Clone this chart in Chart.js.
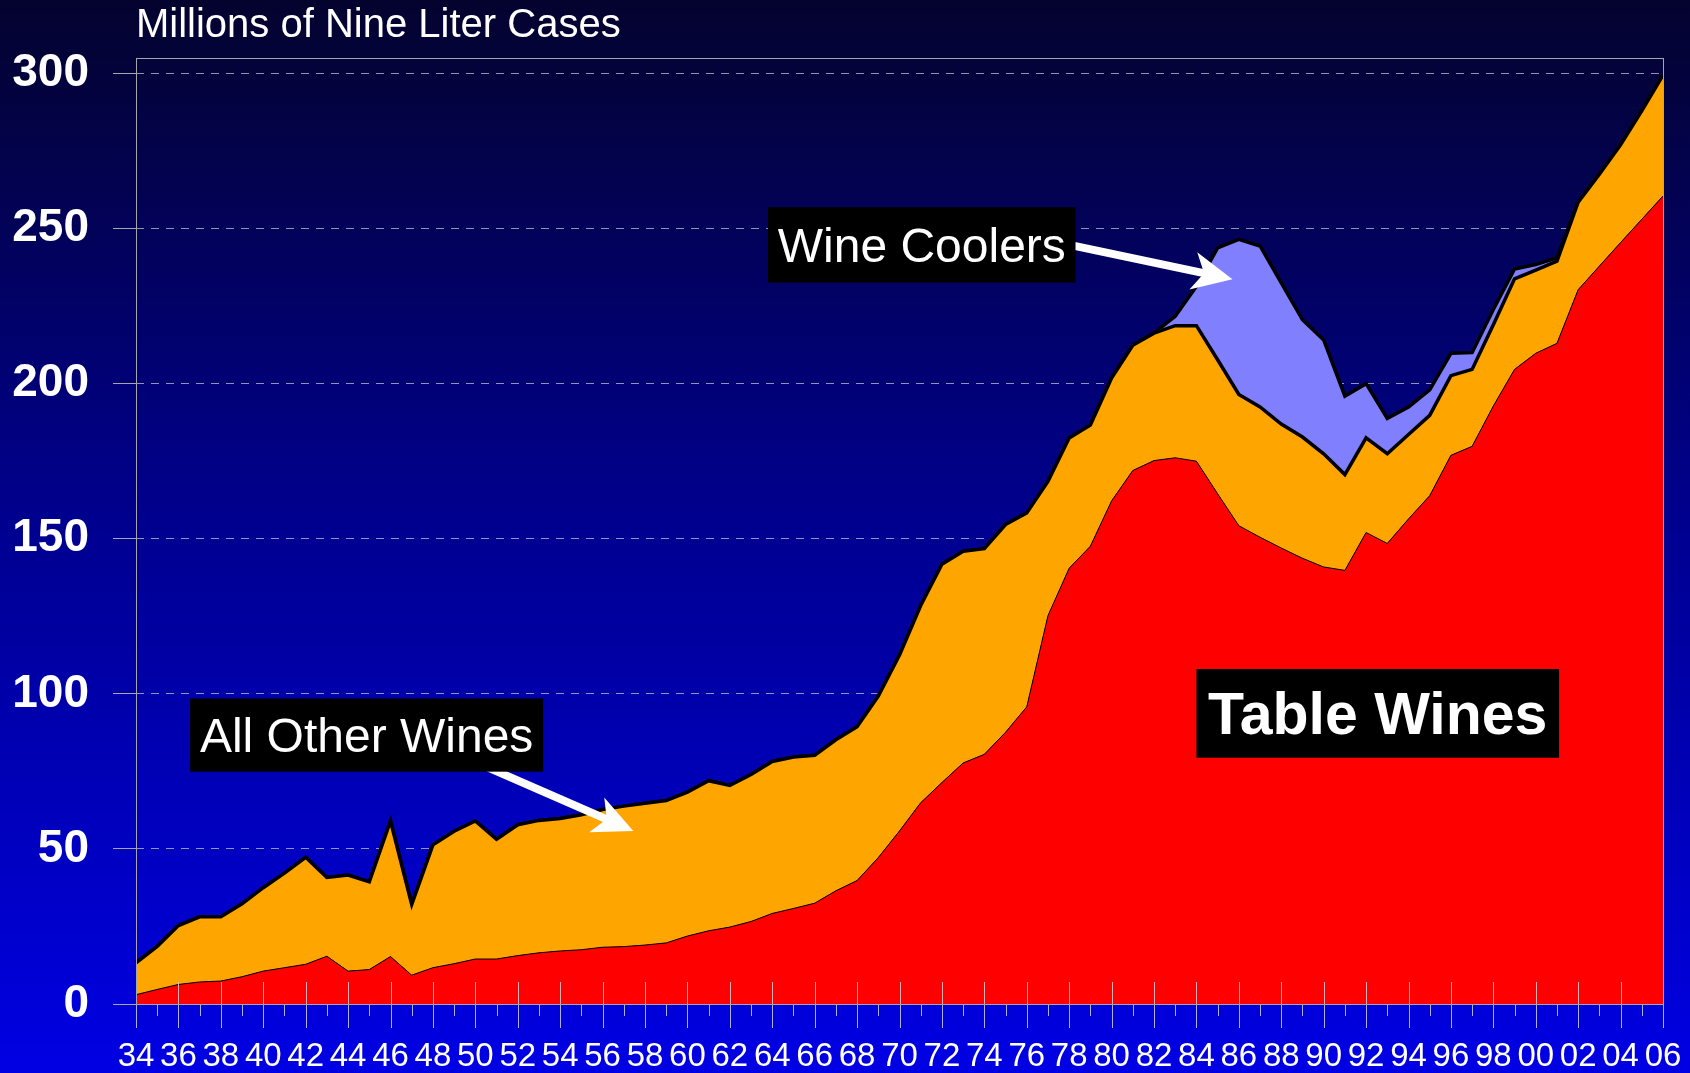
<!DOCTYPE html>
<html>
<head>
<meta charset="utf-8">
<title>Wine volume by type, 1934-2006</title>
<script src="https://cdn.jsdelivr.net/npm/chart.js@4.4.1/dist/chart.umd.min.js"></script>
<style>
  html, body { margin: 0; padding: 0; background: #02022a; overflow: hidden; }
  #wrap { width: 1690px; height: 1073px; }
</style>
</head>
<body>
<div id="wrap"><canvas id="chart" width="1690" height="1073"></canvas></div>
<script>
// Millions of nine liter cases
const years = [
  1934, 1935, 1936, 1937, 1938, 1939, 1940, 1941, 1942, 1943,
  1944, 1945, 1946, 1947, 1948, 1949, 1950, 1951, 1952, 1953,
  1954, 1955, 1956, 1957, 1958, 1959, 1960, 1961, 1962, 1963,
  1964, 1965, 1966, 1967, 1968, 1969, 1970, 1971, 1972, 1973,
  1974, 1975, 1976, 1977, 1978, 1979, 1980, 1981, 1982, 1983,
  1984, 1985, 1986, 1987, 1988, 1989, 1990, 1991, 1992, 1993,
  1994, 1995, 1996, 1997, 1998, 1999, 2000, 2001, 2002, 2003,
  2004, 2005, 2006
];

const tableWines = [
  3.0, 4.7, 6.3, 7.1, 7.4, 8.8, 10.6, 11.7, 12.8, 15.4,
  10.6, 11.1, 15.3, 9.3, 11.7, 13.0, 14.5, 14.5, 15.6, 16.5,
  17.1, 17.5, 18.3, 18.5, 19.0, 19.7, 21.9, 23.6, 24.8, 26.6,
  29.2, 30.8, 32.5, 36.5, 39.8, 47.2, 55.8, 64.9, 71.4, 77.7,
  80.5, 87.6, 95.8, 125.2, 140.5, 147.6, 162.2, 172.0, 175.2, 176.1,
  175.0, 164.5, 154.2, 150.5, 147.0, 143.7, 140.9, 139.8, 152.0, 148.5,
  156.4, 163.9, 176.9, 179.8, 192.8, 204.6, 209.8, 213.0, 230.3, 237.9,
  245.5, 253.0, 260.5
];

const otherWines = [
  10.3, 13.9, 19.0, 21.0, 20.7, 23.5, 26.9, 30.5, 34.5, 25.4,
  31.0, 28.3, 43.7, 22.8, 39.6, 42.7, 44.5, 38.6, 42.2, 42.7,
  42.7, 43.5, 44.4, 45.3, 45.7, 45.9, 46.4, 48.4, 45.7, 47.4,
  49.0, 48.8, 47.7, 48.7, 49.6, 52.1, 56.7, 63.6, 70.4, 68.3,
  66.3, 67.0, 62.5, 43.3, 42.0, 39.1, 39.6, 40.4, 41.1, 42.6,
  43.7, 43.2, 42.3, 42.0, 40.0, 39.1, 36.5, 30.9, 30.5, 28.9,
  27.2, 25.9, 25.7, 24.8, 26.2, 29.2, 26.8, 26.5, 28.2, 29.6,
  31.5, 35.0, 39.0
];

const wineCoolers = [
  0, 0, 0, 0, 0, 0, 0, 0, 0, 0,
  0, 0, 0, 0, 0, 0, 0, 0, 0, 0,
  0, 0, 0, 0, 0, 0, 0, 0, 0, 0,
  0, 0, 0, 0, 0, 0, 0, 0, 0, 0,
  0, 0, 0, 0, 0, 0, 0, 0, 0, 3.0,
  12.7, 36.1, 50.0, 51.9, 45.5, 37.8, 36.7, 25.3, 17.5, 11.4,
  8.9, 8.2, 7.2, 5.4, 4.9, 3.2, 1.8, 1.1, 0, 0,
  0, 0, 0
];

const yTicks = [0, 50, 100, 150, 200, 250, 300];

const FONT = '"Liberation Sans", Arial, Helvetica, sans-serif';

// callout boxes in data space: [year left, value top, year right, value bottom]
const callouts = [
  { text: 'Wine Coolers', box: [1963.8, 256.9, 1978.3, 232.6], size: 48, bold: false,
    arrow: [1976.4, 247.1, 1985.7, 233.7] },
  { text: 'All Other Wines', box: [1936.55, 98.5, 1953.2, 74.9], size: 48, bold: false,
    arrow: [1948.8, 81.6, 1957.45, 55.8] },
  { text: 'Table Wines', box: [1984.0, 108.0, 2001.1, 79.4], size: 59, bold: true }
];

const backdrop = {
  id: 'backdrop',
  beforeDraw(chart) {
    const { ctx, width, height } = chart;
    const g = ctx.createLinearGradient(0, 0, 0, height);
    g.addColorStop(0, '#04032e');
    g.addColorStop(0.47, '#00008c');
    g.addColorStop(1, '#0000e4');
    ctx.save();
    ctx.fillStyle = g;
    ctx.fillRect(0, 0, width, height);
    ctx.restore();
  }
};

function drawArrow(ctx, x1, y1, x2, y2) {
  const dx = x2 - x1, dy = y2 - y1;
  const len = Math.hypot(dx, dy);
  const ux = dx / len, uy = dy / len;
  const nx = -uy, ny = ux;
  const headLen = 40, halfW = 19, notch = 11;
  const bx = x2 - ux * (headLen - notch), by = y2 - uy * (headLen - notch);

  ctx.strokeStyle = '#fff';
  ctx.lineWidth = 8;
  ctx.lineCap = 'butt';
  ctx.beginPath();
  ctx.moveTo(x1, y1);
  ctx.lineTo(bx + ux * 2, by + uy * 2);
  ctx.stroke();

  ctx.fillStyle = '#fff';
  ctx.beginPath();
  ctx.moveTo(x2, y2);
  ctx.lineTo(x2 - ux * headLen + nx * halfW, y2 - uy * headLen + ny * halfW);
  ctx.lineTo(bx, by);
  ctx.lineTo(x2 - ux * headLen - nx * halfW, y2 - uy * headLen - ny * halfW);
  ctx.closePath();
  ctx.fill();
}

const overlay = {
  id: 'overlay',
  afterDatasetsDraw(chart) {
    const { ctx, chartArea: a, scales: { x, y } } = chart;
    const px = yr => x.getPixelForValue(yr - years[0]);
    const py = v => y.getPixelForValue(v);

    ctx.save();

    // year ticks: long crossing ticks on even years, short ones on odd years
    ctx.strokeStyle = 'rgba(205,205,215,0.85)';
    ctx.lineWidth = 1;
    years.forEach((yr, i) => {
      const xp = Math.round(x.getPixelForValue(i)) + 0.5;
      const major = yr % 2 === 0;
      ctx.beginPath();
      ctx.moveTo(xp, major ? a.bottom - 22 : a.bottom);
      ctx.lineTo(xp, a.bottom + (major ? 24 : 12));
      ctx.stroke();
    });

    // plot frame
    ctx.strokeStyle = '#a6a6aa';
    ctx.strokeRect(Math.round(a.left) + 0.5, Math.round(a.top) + 0.5,
      Math.round(a.right - a.left), Math.round(a.bottom - a.top));

    // arrows first, callout boxes over their tails
    callouts.forEach(c => {
      if (c.arrow) {
        const [x1, y1, x2, y2] = c.arrow;
        drawArrow(ctx, px(x1), py(y1), px(x2), py(y2));
      }
    });
    callouts.forEach(c => {
      const [l, t, r, b] = c.box;
      const left = px(l), top = py(t), right = px(r), bottom = py(b);
      ctx.fillStyle = '#000';
      ctx.fillRect(left, top, right - left, bottom - top);
      ctx.fillStyle = '#fff';
      ctx.font = (c.bold ? 'bold ' : '') + c.size + 'px ' + FONT;
      ctx.textAlign = 'center';
      ctx.textBaseline = 'alphabetic';
      ctx.fillText(c.text, (left + right) / 2, (top + bottom) / 2 + c.size * 0.716 / 2);
    });

    // axis title
    ctx.fillStyle = '#fff';
    ctx.font = '40px ' + FONT;
    ctx.textAlign = 'left';
    ctx.textBaseline = 'alphabetic';
    ctx.fillText('Millions of Nine Liter Cases', a.left, 37);

    ctx.restore();
  }
};

new Chart(document.getElementById('chart'), {
  type: 'line',
  data: {
    labels: years,
    datasets: [
      {
        label: 'Table Wines',
        data: tableWines,
        backgroundColor: '#ff0000',
        borderColor: '#000',
        borderWidth: 1,
        fill: 'origin'
      },
      {
        label: 'All Other Wines',
        data: otherWines,
        backgroundColor: '#ffa500',
        borderColor: '#000',
        borderWidth: 3.5,
        fill: '-1'
      },
      {
        label: 'Wine Coolers',
        data: wineCoolers,
        backgroundColor: '#8080ff',
        borderColor: '#000',
        borderWidth: 3.5,
        fill: '-1'
      }
    ]
  },
  options: {
    responsive: false,
    animation: false,
    events: [],
    layout: { padding: { top: 58, right: 27, left: 0, bottom: 0 } },
    elements: { point: { radius: 0 }, line: { tension: 0 } },
    plugins: {
      legend: { display: false },
      tooltip: { enabled: false }
    },
    scales: {
      x: {
        type: 'category',
        offset: false,
        afterFit: s => { s.height = 69; s.paddingLeft = 0; s.paddingRight = 0; },
        border: { display: false },
        grid: { display: false, drawTicks: false },
        ticks: {
          autoSkip: false,
          maxRotation: 0,
          minRotation: 0,
          color: '#fff',
          padding: 33,
          font: { family: FONT, size: 33 },
          callback: (v, i) => years[i] % 2 === 0 ? String(years[i] % 100).padStart(2, '0') : ''
        }
      },
      y: {
        stacked: true,
        min: 0,
        max: 305,
        afterFit: s => { s.width = 136; },
        afterBuildTicks: s => { s.ticks = yTicks.map(v => ({ value: v })); },
        border: { display: false, dash: [8, 7] },
        grid: {
          color: c => (c.tick && c.tick.value === 0) ? 'rgba(0,0,0,0)' : 'rgba(172,172,196,0.85)',
          lineWidth: 1,
          tickColor: '#a6a6aa',
          tickLength: 23,
          tickBorderDash: []
        },
        ticks: {
          color: '#fff',
          padding: 24,
          font: { family: FONT, size: 46, weight: 'bold' }
        }
      }
    }
  },
  plugins: [backdrop, overlay]
});
</script>
</body>
</html>
